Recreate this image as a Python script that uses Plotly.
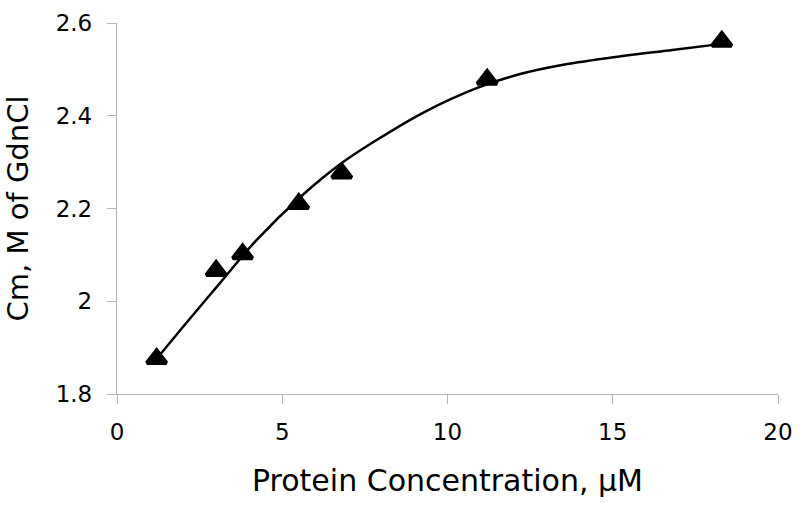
import plotly.graph_objects as go

# Measured data points (protein concentration, uM ; Cm, M of GdnCl)
conc = [1.2, 3.0, 3.8, 5.5, 6.8, 11.2, 18.3]
cm = [1.876, 2.066, 2.102, 2.210, 2.276, 2.478, 2.560]

# Fitted curve
fit_x = [1.2, 2.0, 3.1, 4.2, 5.6, 6.8, 8.0, 9.3, 10.9, 12.2, 13.5, 15.2, 16.8, 18.3]
fit_y = [1.876, 1.945, 2.038, 2.130, 2.228, 2.298, 2.354, 2.408, 2.460, 2.490, 2.510, 2.528, 2.542, 2.555]

x_ticks = [0, 5, 10, 15, 20]
y_ticks = [1.8, 2.0, 2.2, 2.4, 2.6]
y_tick_text = ["1.8", "2", "2.2", "2.4", "2.6"]

FONT = "DejaVu Sans, Verdana, sans-serif"
AXIS_GRAY = "#b4b4b4"

fig = go.Figure()
fig.add_trace(go.Scatter(
    x=fit_x, y=fit_y, mode="lines",
    line=dict(color="black", width=2.5, shape="spline", smoothing=1.0),
    hoverinfo="skip", showlegend=False,
))
fig.add_trace(go.Scatter(
    x=conc, y=cm, mode="markers",
    marker=dict(symbol="triangle-up", size=17, color="black",
                line=dict(color="black", width=4)),
    showlegend=False,
))

fig.update_layout(
    width=800, height=510,
    margin=dict(l=117, r=22, t=23, b=116),
    paper_bgcolor="white", plot_bgcolor="white",
    font=dict(family=FONT, color="black", size=23),
)
fig.update_xaxes(
    range=[0, 20], tickvals=x_ticks, ticktext=[str(v) for v in x_ticks],
    showgrid=False, zeroline=False, automargin=False,
    showline=True, linecolor=AXIS_GRAY, linewidth=1.3,
    ticks="outside", ticklen=9, tickcolor=AXIS_GRAY, tickwidth=1.3,
    ticklabelstandoff=8,
    tickfont=dict(size=23, family=FONT),
    title=dict(text="Protein Concentration, μM", font=dict(size=30, family=FONT), standoff=26),
)
fig.update_yaxes(
    range=[1.8, 2.6], tickvals=y_ticks, ticktext=y_tick_text,
    showgrid=False, zeroline=False, automargin=False,
    showline=True, linecolor=AXIS_GRAY, linewidth=1.3,
    ticks="outside", ticklen=9, tickcolor=AXIS_GRAY, tickwidth=1.3,
    ticklabelstandoff=10,
    tickfont=dict(size=23, family=FONT),
    title=dict(text="Cm, M of GdnCl", font=dict(size=29, family=FONT), standoff=18),
)

fig.write_html("out.html", config={"displayModeBar": False},
               post_script="document.body.style.margin='0';")
